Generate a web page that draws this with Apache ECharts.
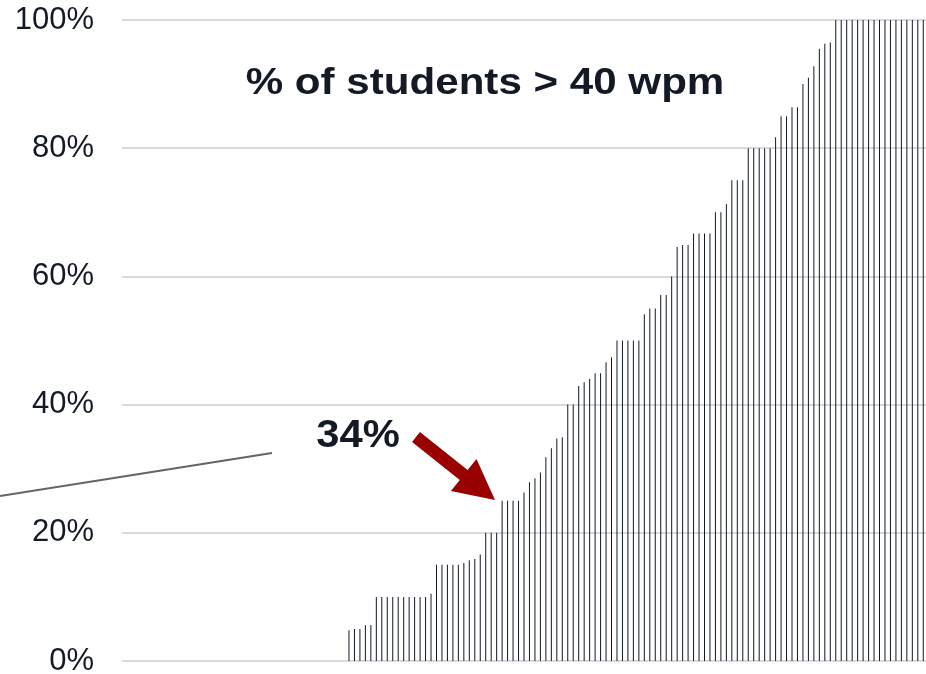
<!DOCTYPE html>
<html>
<head>
<meta charset="utf-8">
<script src="https://cdn.jsdelivr.net/npm/echarts/dist/echarts.min.js"></script>
<style>
  html, body { margin: 0; padding: 0; background: #ffffff; }
  #chart { width: 926px; height: 674px; }
</style>
</head>
<body>
<div id="chart"></div>
<script>
// Share of students reading faster than 40 wpm, per school (sorted ascending)
const leadingZeroSchools = [0,0,0,0,0,0,0,0,0,0,0,0,0,0,0,0,0,0,0,0,0,0,0,0,0,0,0,0,0,0,0,0,0,0,0,0,0,0,0,0,0];
const schoolShares = [
  4.8, 5.0, 5.0, 5.6, 5.6,
  10, 10, 10, 10, 10, 10, 10, 10, 10, 10, 10.5,
  15, 15, 15, 15, 15, 15.3, 15.7, 15.9, 16.6,
  20, 20, 20, 25, 25, 25, 25,
  26.3, 27.9, 28.5, 29.4, 31.8, 33.2, 34.7, 34.9,
  40, 40, 42.9, 43.5, 44.0, 44.9, 44.9, 46.6, 47.4,
  50, 50, 50, 50, 50, 54.1, 55, 55, 57.1, 57.1, 60.0,
  64.6, 64.9, 64.9, 66.7, 66.7, 66.7, 66.7, 70, 70, 71.3,
  75, 75, 75, 80, 80, 80, 80, 80, 81.7, 85, 85, 86.4, 86.4,
  90.0, 91.0, 92.8, 95.5, 96.3, 96.5,
  100, 100, 100, 100, 100, 100, 100, 100, 100, 100, 100, 100, 100, 100, 100, 100, 100
];
const yTickValues = [0, 20, 40, 60, 80, 100];
const chartTitle = '% of students > 40 wpm';
const calloutText = '34%';

const values = leadingZeroSchools.concat(schoolShares);
const categories = values.map((_, i) => String(i + 1));

const chart = echarts.init(document.getElementById('chart'), null, { renderer: 'canvas' });
const FONT = "'Liberation Sans', Arial, sans-serif";
const TEXT = '#131a26';

chart.setOption({
  animation: false,
  backgroundColor: '#ffffff',
  grid: { left: 122, right: 0, top: 20, bottom: 13, containLabel: false, outerBoundsMode: 'none' },
  xAxis: {
    type: 'category',
    data: categories,
    axisLine: { show: false },
    axisTick: { show: false },
    axisLabel: { show: false },
    splitLine: { show: false }
  },
  yAxis: {
    type: 'value',
    min: yTickValues[0],
    max: yTickValues[yTickValues.length - 1],
    interval: 20,
    axisLine: { show: false },
    axisTick: { show: false },
    axisLabel: {
      formatter: '{value}%',
      fontFamily: FONT,
      fontSize: 31,
      color: TEXT,
      margin: 28,
      padding: [3, 0, 0, 0]
    },
    splitLine: { show: true, lineStyle: { color: '#dadada', width: 2 } }
  },
  series: [{
    type: 'bar',
    data: values,
    barWidth: 1,
    itemStyle: { color: '#111827' },
    silent: true
  }],
  graphic: [
    {
      type: 'line',
      shape: { x1: 0, y1: 496, x2: 272, y2: 453 },
      style: { stroke: '#646464', lineWidth: 2 }
    },
    {
      type: 'text',
      x: 485, y: 84,
      scaleX: 1.17,
      style: {
        text: chartTitle,
        x: 0, y: 0,
        font: "bold 36px 'Liberation Sans', Arial, sans-serif",
        fill: TEXT,
        align: 'center',
        verticalAlign: 'middle'
      }
    },
    {
      type: 'text',
      x: 358, y: 436,
      scaleX: 1.07,
      style: {
        text: calloutText,
        x: 0, y: 0,
        font: "bold 39px 'Liberation Sans', Arial, sans-serif",
        fill: TEXT,
        align: 'center',
        verticalAlign: 'middle'
      }
    },
    {
      type: 'polygon',
      shape: {
        points: [
          [419.9, 432.1], [467.6, 470.1], [476.5, 459.0], [495, 500],
          [450.9, 491.0], [459.8, 479.9], [412.1, 441.9]
        ]
      },
      style: { fill: '#990000' }
    }
  ]
});
</script>
</body>
</html>
